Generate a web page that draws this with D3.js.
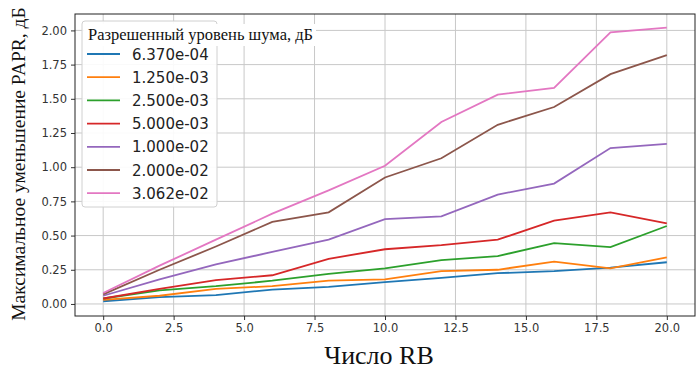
<!DOCTYPE html>
<html><head><meta charset="utf-8">
<script src="https://cdn.jsdelivr.net/npm/d3@7"></script>
<style>body{margin:0;background:#fff}</style>
</head><body>
<svg id="c" width="696" height="369"></svg>
<script>
const xValues = [0, 2, 4, 6, 8, 10, 12, 14, 16, 18, 20];
const seriesNames = ["6.370e-04", "1.250e-03", "2.500e-03", "5.000e-03", "1.000e-02", "2.000e-02", "3.062e-02"];
const s1 = [0.02, 0.05, 0.065, 0.105, 0.125, 0.16, 0.19, 0.225, 0.24, 0.265, 0.305];
const s2 = [0.03, 0.06, 0.11, 0.13, 0.17, 0.18, 0.24, 0.25, 0.31, 0.26, 0.34];
const s3 = [0.04, 0.10, 0.13, 0.17, 0.22, 0.26, 0.32, 0.35, 0.445, 0.415, 0.57];
const s4 = [0.04, 0.11, 0.175, 0.21, 0.33, 0.40, 0.43, 0.47, 0.61, 0.67, 0.59];
const s5 = [0.06, 0.18, 0.29, 0.38, 0.47, 0.62, 0.64, 0.80, 0.88, 1.14, 1.17];
const s6 = [0.07, 0.25, 0.42, 0.60, 0.67, 0.925, 1.065, 1.31, 1.44, 1.68, 1.82];
const s7 = [0.08, 0.28, 0.47, 0.66, 0.83, 1.01, 1.33, 1.53, 1.58, 1.985, 2.02];
const seriesValues = [s1, s2, s3, s4, s5, s6, s7];
const colors = ["#1f77b4", "#ff7f0e", "#2ca02c", "#d62728", "#9467bd", "#8c564b", "#e377c2"];
const xTicks = [0, 2.5, 5, 7.5, 10, 12.5, 15, 17.5, 20];
const yTicks = [0, 0.25, 0.5, 0.75, 1.0, 1.25, 1.5, 1.75, 2.0];
const legendTitle = "Разрешенный уровень шума, дБ";
const xLabel = "Число RB";
const yLabel = "Максимальное уменьшение PAPR, дБ";

const svg = d3.select("#c");
const L = 75, R = 695, T = 14, B = 316;
const x = d3.scaleLinear().domain([-1, 21]).range([L, R]);
const y = d3.scaleLinear().domain([-0.088, 2.12]).range([B, T]);

// grid
svg.append("g").selectAll("line").data(xTicks).join("line")
  .attr("x1", d => x(d)).attr("x2", d => x(d)).attr("y1", T).attr("y2", B)
  .attr("stroke", "#c8c8c8").attr("stroke-width", 1);
svg.append("g").selectAll("line").data(yTicks).join("line")
  .attr("y1", d => y(d)).attr("y2", d => y(d)).attr("x1", L).attr("x2", R)
  .attr("stroke", "#c8c8c8").attr("stroke-width", 1);

// axes
const xAxis = d3.axisBottom(x).tickValues(xTicks).tickFormat(d3.format(".1f")).tickSizeOuter(0).tickSize(4).tickPadding(4);
const yAxis = d3.axisLeft(y).tickValues(yTicks).tickFormat(d3.format(".2f")).tickSizeOuter(0).tickSize(4).tickPadding(4);
const gx = svg.append("g").attr("transform", `translate(0,${B})`).call(xAxis);
const gy = svg.append("g").attr("transform", `translate(${L},0)`).call(yAxis);
[gx, gy].forEach(g => {
  g.select(".domain").remove();
  g.selectAll("text").attr("font-family", "DejaVu Sans").attr("font-size", 11.5).attr("fill", "#333");
  g.selectAll("line").attr("stroke", "#333");
});

// lines
const line = d3.line().x((d, i) => x(xValues[i])).y(d => y(d));
svg.append("g").selectAll("path").data(seriesValues).join("path")
  .attr("d", d => line(d)).attr("fill", "none")
  .attr("stroke", (d, i) => colors[i]).attr("stroke-width", 1.8);

// frame
svg.append("rect").attr("x", L).attr("y", T).attr("width", R - L).attr("height", B - T)
  .attr("fill", "none").attr("stroke", "#222").attr("stroke-width", 1);

// legend
const lg = svg.append("g");
lg.append("rect").attr("x", 82).attr("y", 21).attr("width", 135).attr("height", 186)
  .attr("rx", 3).attr("fill", "#fff").attr("fill-opacity", 0.9).attr("stroke", "#d0d0d0");
lg.append("rect").attr("x", 84).attr("y", 24).attr("width", 232).attr("height", 22).attr("fill", "#fff");
lg.append("text").attr("x", 88).attr("y", 40).text(legendTitle)
  .attr("font-family", "Liberation Serif").attr("font-size", 16.5).attr("fill", "#111");
const items = lg.selectAll("g.it").data(seriesNames).join("g").attr("class", "it")
  .attr("transform", (d, i) => `translate(0,${54 + i * 23.2})`);
items.append("line").attr("x1", 87).attr("x2", 120).attr("y1", 0).attr("y2", 0)
  .attr("stroke", (d, i) => colors[i]).attr("stroke-width", 1.8);
items.append("text").attr("x", 132).attr("y", 5.5).text(d => d)
  .attr("font-family", "DejaVu Sans").attr("font-size", 15).attr("fill", "#222");

// axis labels
svg.append("text").attr("x", 379).attr("y", 364).attr("text-anchor", "middle").text(xLabel)
  .attr("font-family", "Liberation Serif").attr("font-size", 26).attr("fill", "#111");
svg.append("text").attr("transform", `translate(25,164) rotate(-90)`)
  .attr("text-anchor", "middle").text(yLabel)
  .attr("font-family", "Liberation Serif").attr("font-size", 19.5).attr("fill", "#111");
</script>
</body></html>
